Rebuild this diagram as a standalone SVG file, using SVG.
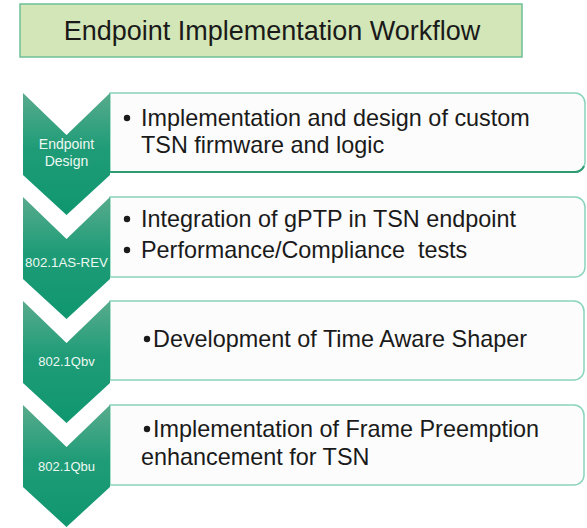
<svg xmlns="http://www.w3.org/2000/svg" width="587" height="528" viewBox="0 0 587 528">
  <defs>
    <linearGradient id="chevFill" x1="0" y1="0" x2="0" y2="1">
      <stop offset="0" stop-color="#58ab8d"/>
      <stop offset="0.45" stop-color="#1f9c77"/>
      <stop offset="1" stop-color="#0f976f"/>
    </linearGradient>
    <style>
      .title-box { fill: #d3e6b7; stroke: #6fbf98; stroke-width: 1.5; }
      .title { font-family: "Liberation Sans", Arial, sans-serif; font-size: 27px; fill: #1a1a1a; text-anchor: middle; }
      .chev { fill: url(#chevFill); }
      .card { fill: #fcfcfc; stroke: #8ad4b9; stroke-width: 1.5; }
      .card-edge { fill: none; stroke: #2e9c72; stroke-width: 2; }
      .body { font-family: "Liberation Sans", Arial, sans-serif; font-size: 23.4px; fill: #1a1a1a; white-space: pre; }
      .dot { fill: #1a1a1a; }
      .lbl { font-family: "Liberation Sans", Arial, sans-serif; fill: #eef8f3; text-anchor: middle; }
    </style>
  </defs>

  <!-- heading -->
  <g id="title">
    <rect class="title-box" x="20" y="4" width="502" height="53"/>
    <text class="title" x="272" y="40">Endpoint Implementation Workflow</text>
  </g>

  <!-- stage 1 -->
  <g id="stage-endpoint-design">
    <path class="card" d="M110,93 H575 A10,10 0 0 1 585,103 V162 A10,10 0 0 1 575,172 H110 Z"/>
    <path class="card-edge" d="M110,172 H575 A10,10 0 0 0 584,166"/>
    <path class="chev" d="M23,93 L66.5,135 L110,93 V175 L66.5,215 L23,175 Z"/>
    <text class="lbl" x="66.5" y="149" font-size="14">Endpoint</text>
    <text class="lbl" x="66.5" y="166" font-size="14">Design</text>
    <circle class="dot" cx="127" cy="118" r="3.2"/>
    <text class="body" x="141" y="126">Implementation and design of custom</text>
    <text class="body" x="141" y="153">TSN firmware and logic</text>
  </g>

  <!-- stage 2 -->
  <g id="stage-802-1as-rev">
    <path class="card" d="M110,197 H575 A10,10 0 0 1 585,207 V267 A10,10 0 0 1 575,277 H110 Z"/>
    <path class="chev" d="M23,197 L66.5,239 L110,197 V279 L66.5,319 L23,279 Z"/>
    <text class="lbl" x="66.5" y="267" font-size="13.3">802.1AS-REV</text>
    <circle class="dot" cx="127" cy="219" r="3.2"/>
    <text class="body" x="141" y="227">Integration of gPTP in TSN endpoint</text>
    <circle class="dot" cx="127" cy="250" r="3.2"/>
    <text class="body" x="141" y="258">Performance/Compliance  tests</text>
  </g>

  <!-- stage 3 -->
  <g id="stage-802-1qbv">
    <path class="card" d="M110,301 H574 A10,10 0 0 1 584,311 V370 A10,10 0 0 1 574,380 H110 Z"/>
    <path class="chev" d="M23,301 L66.5,343 L110,301 V383 L66.5,423 L23,383 Z"/>
    <text class="lbl" x="66.5" y="366" font-size="13">802.1Qbv</text>
    <circle class="dot" cx="147" cy="339" r="3.2"/>
    <text class="body" x="153" y="347">Development of Time Aware Shaper</text>
  </g>

  <!-- stage 4 -->
  <g id="stage-802-1qbu">
    <path class="card" d="M110,405 H574 A10,10 0 0 1 584,415 V475 A10,10 0 0 1 574,485 H110 Z"/>
    <path class="chev" d="M23,405 L66.5,447 L110,405 V487 L66.5,527 L23,487 Z"/>
    <text class="lbl" x="66.5" y="471" font-size="13">802.1Qbu</text>
    <circle class="dot" cx="147" cy="429" r="3.2"/>
    <text class="body" x="153" y="437">Implementation of Frame Preemption</text>
    <text class="body" x="141" y="465">enhancement for TSN</text>
  </g>

  <g id="connectors"/>
</svg>
